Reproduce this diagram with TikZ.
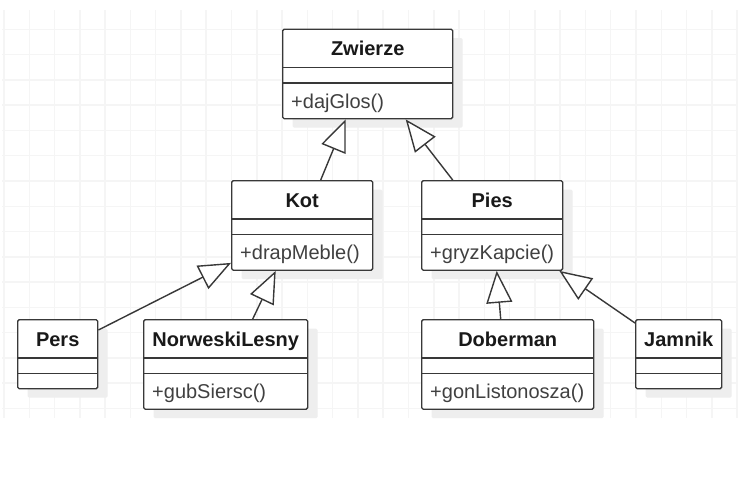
\documentclass[tikz,border=0pt]{standalone}
\usepackage{fontspec}
\setmainfont{Liberation Sans}
\usepackage{tikz}
\usetikzlibrary{arrows.meta, shadows}

\tikzset{
  siatka/.style={gray!8, line width=1.5pt},
  krawedz/.style={draw=black!78, line width=1.4pt},
  klasa/.style={krawedz, fill=white, rounded corners=1.5pt, inner sep=0pt, anchor=north west,
    minimum height=89.5pt,
    drop shadow={shadow xshift=10pt, shadow yshift=-9pt, fill=gray!13, opacity=1}},
  pusta/.style={minimum height=69pt},
  nazwa/.style={font=\bfseries\fontsize{20}{24}\selectfont, text=black!90, anchor=base, inner sep=0pt},
  metoda/.style={font=\fontsize{20}{24}\selectfont, text=black!75, anchor=base west, inner sep=0pt},
  dziedziczy/.style={krawedz, -{Triangle[length=32pt, width=26pt, fill=white]}}
}

\begin{document}
\begin{tikzpicture}[x=1pt, y=-1pt]
    % Tlo i siatka
    \fill[white] (0,0) rectangle (752,480);
    \foreach \i in {0,...,29}
        \draw[siatka] ({4+25.28*\i},10) -- ({4+25.28*\i},418);
    \foreach \j in {0,...,15}
        \draw[siatka] (2,{29.3+25.28*\j}) -- (737,{29.3+25.28*\j});
    % Klasy
    \node[klasa, minimum width=170pt] (zwierze) at (282,28.5) {};
    \node[klasa, minimum width=141pt] (kot) at (231,180) {};
    \node[klasa, minimum width=141pt] (pies) at (421,180) {};
    \node[klasa, pusta, minimum width=80pt] (pers) at (17,319) {};
    \node[klasa, minimum width=164pt] (norweski) at (143,319) {};
    \node[klasa, minimum width=172pt] (doberman) at (421,319) {};
    \node[klasa, pusta, minimum width=86pt] (jamnik) at (635,319) {};
    \foreach \k in {zwierze,kot,pies,pers,norweski,doberman,jamnik}
        \draw[krawedz] ([yshift=-39pt]\k.north west) -- ([yshift=-39pt]\k.north east)
            ([yshift=-54.5pt]\k.north west) -- ([yshift=-54.5pt]\k.north east);
    % Nazwy klas
    \node[nazwa] (zwierzeN) at ([yshift=-27pt]zwierze.north) {Zwierze};
    \node[nazwa] (kotN) at ([yshift=-27pt]kot.north) {Kot};
    \node[nazwa] (piesN) at ([yshift=-27pt]pies.north) {Pies};
    \node[nazwa] (persN) at ([yshift=-27pt]pers.north) {Pers};
    \node[nazwa] (norweskiN) at ([yshift=-27pt]norweski.north) {NorweskiLesny};
    \node[nazwa] (dobermanN) at ([yshift=-27pt]doberman.north) {Doberman};
    \node[nazwa] (jamnikN) at ([yshift=-27pt]jamnik.north) {Jamnik};
    % Metody
    \node[metoda] (zwierzeM) at ([xshift=9pt, yshift=-79.5pt]zwierze.north west) {+dajGlos()};
    \node[metoda] (kotM) at ([xshift=9pt, yshift=-79pt]kot.north west) {+drapMeble()};
    \node[metoda] (piesM) at ([xshift=9pt, yshift=-79pt]pies.north west) {+gryzKapcie()};
    \node[metoda] (norweskiM) at ([xshift=9pt, yshift=-79pt]norweski.north west) {+gubSiersc()};
    \node[metoda] (dobermanM) at ([xshift=9pt, yshift=-79pt]doberman.north west) {+gonListonosza()};
    % Dziedziczenie
    \draw[dziedziczy] ([xshift=18.5pt]kot.north) -- ([xshift=-22pt]zwierze.south);
    \draw[dziedziczy] ([xshift=-39.5pt]pies.north) -- ([xshift=38pt]zwierze.south);
    \draw[dziedziczy] ([yshift=-11pt]pers.north east) -- ([yshift=8pt]kot.south west);
    \draw[dziedziczy] ([xshift=27pt]norweski.north) -- ([xshift=-26.5pt]kot.south);
    \draw[dziedziczy] ([xshift=-7pt]doberman.north) -- ([xshift=4.5pt]pies.south);
    \draw[dziedziczy] ([yshift=-4pt]jamnik.north west) -- ([xshift=-4pt]pies.south east);
\end{tikzpicture}
\end{document}
